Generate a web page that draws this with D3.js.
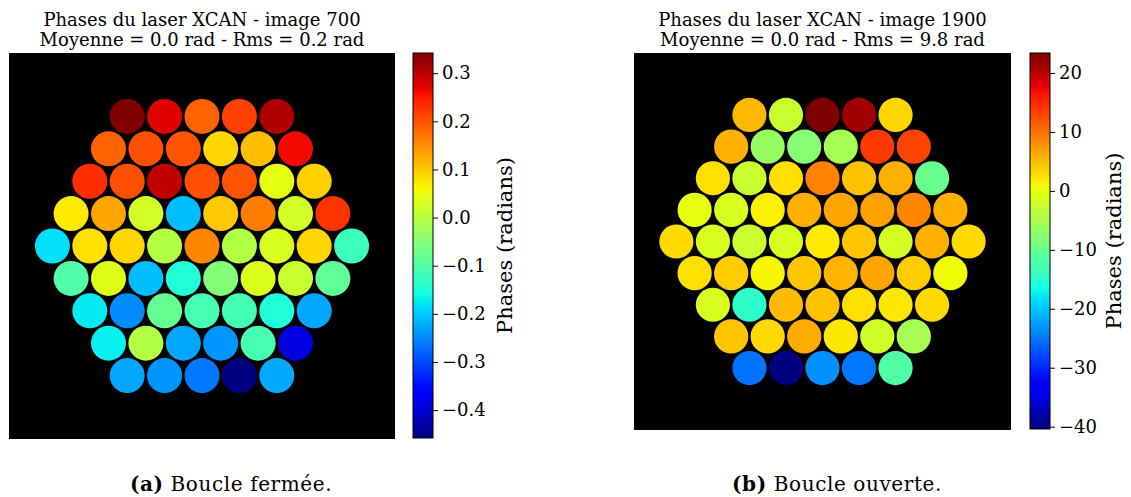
<!DOCTYPE html>
<html>
<head>
<meta charset="utf-8">
<script src="https://cdn.jsdelivr.net/npm/d3@7"></script>
<style>
  html, body { margin: 0; padding: 0; background: #fff; }
  svg { display: block; }
</style>
</head>
<body>
<svg id="chart" width="1131" height="497"></svg>
<script>
// ---------------- data ----------------
// hexagonal layout: number of sub-apertures per row (top to bottom)
const rowCounts = [5, 6, 7, 8, 9, 8, 7, 6, 5];

// (a) closed loop, image 700 — phases (rad), row by row, left to right
const phasesClosed = [
  0.342, 0.275, 0.186, 0.215, 0.309,
  0.186, 0.203, 0.200, 0.088, 0.109, 0.262,
  0.232, 0.203, 0.296, 0.203, 0.200, 0.045, 0.093,
  0.071, 0.130, 0.026, -0.209, 0.101, 0.164, 0.026, 0.227,
  -0.182, 0.080, 0.088, -0.004, 0.156, -0.004, 0.031, 0.088, -0.120,
  -0.100, 0.040, -0.209, -0.148, -0.052, 0.036, 0.016, -0.085,
  -0.174, -0.248, -0.081, -0.110, -0.113, -0.148, -0.228,
  -0.170, -0.004, -0.228, -0.240, -0.110, -0.391,
  -0.228, -0.240, -0.264, -0.458, -0.225
];

// (b) open loop, image 1900 — phases (rad)
const phasesOpen = [
  5.2, -2.5, 23.4, 21.6, 3.2,
  5.8, -6.4, -7.6, -5.2, 13.9, 13.1,
  2.5, -2.5, 2.5, 8.9, 4.6, 5.8, -9.9,
  -0.2, -1.4, 1.4, 5.8, 6.5, 6.8, 8.6, 5.8,
  2.9, -1.4, -2.5, -1.4, 1.8, 4.3, -1.7, 5.8, 2.9,
  2.5, 3.9, 1.0, 4.3, 5.4, 6.5, 3.9, 0.5,
  -1.4, -14.5, 5.0, 4.6, 2.5, 2.0, 2.9,
  4.3, 2.9, 6.1, 2.0, -2.0, -5.2,
  -25.2, -40.4, -23.4, -25.0, -11.8
];

const ticksClosed = [0.3, 0.2, 0.1, 0.0, -0.1, -0.2, -0.3, -0.4];
const ticksOpen = [20, 10, 0, -10, -20, -30, -40];

const titlesClosed = ["Phases du laser XCAN - image 700", "Moyenne = 0.0 rad - Rms = 0.2 rad"];
const titlesOpen = ["Phases du laser XCAN - image 1900", "Moyenne = 0.0 rad - Rms = 9.8 rad"];
const captionClosed = ["(a)", " Boucle fermée."];
const captionOpen = ["(b)", " Boucle ouverte."];
const cbarLabel = "Phases (radians)";

// ---------------- jet colormap (matplotlib) ----------------
const jetR = d3.scaleLinear().domain([0, 0.35, 0.66, 0.89, 1]).range([0, 0, 1, 1, 0.5]).clamp(true);
const jetG = d3.scaleLinear().domain([0, 0.125, 0.375, 0.64, 0.91, 1]).range([0, 0, 1, 1, 0, 0]).clamp(true);
const jetB = d3.scaleLinear().domain([0, 0.11, 0.34, 0.65, 1]).range([0.5, 1, 1, 0, 0]).clamp(true);
function jet(t) {
  return d3.rgb(Math.round(jetR(t) * 255), Math.round(jetG(t) * 255), Math.round(jetB(t) * 255)).formatHex();
}

const svg = d3.select("#chart");
const defs = svg.append("defs");
const FONT = "'DejaVu Serif', serif";

// build cell positions from the row layout (pitch units)
const cells = [];
rowCounts.forEach((n, r) => {
  for (let c = 0; c < n; c++) {
    cells.push({ col: c - (n - 1) / 2, row: (r - (rowCounts.length - 1) / 2) * Math.sqrt(3) / 2 });
  }
});

function panel(opts) {
  const { x0, y0, size, values, ticks, titles, caption, capX, cbX, cbH, lblX, id } = opts;
  const g = svg.append("g");
  const half = 5.16;
  const xs = d3.scaleLinear().domain([-half, half]).range([x0, x0 + size]);
  const ys = d3.scaleLinear().domain([-half, half]).range([y0, y0 + size]);
  const rPx = 0.468 * size / (2 * half);

  const vmin = d3.min(values), vmax = d3.max(values);
  const norm = d3.scaleLinear().domain([vmin, vmax]).range([0, 1]);

  g.append("rect").attr("x", x0).attr("y", y0).attr("width", size).attr("height", size).attr("fill", "#000");

  g.selectAll("circle.cell").data(cells.map((c, i) => ({ ...c, v: values[i] })))
    .join("circle").attr("class", "cell")
    .attr("cx", d => xs(d.col)).attr("cy", d => ys(d.row)).attr("r", rPx)
    .attr("fill", d => jet(norm(d.v)));

  // titles
  const cx = x0 + size / 2;
  g.append("text").attr("x", cx).attr("y", 26).attr("text-anchor", "middle")
    .attr("font-family", FONT).attr("font-size", 18).text(titles[0]);
  g.append("text").attr("x", cx).attr("y", 45.7).attr("text-anchor", "middle")
    .attr("font-family", FONT).attr("font-size", 18).text(titles[1]);

  // colorbar
  const cbW = 20;
  const grad = defs.append("linearGradient").attr("id", id).attr("x1", 0).attr("y1", 1).attr("x2", 0).attr("y2", 0);
  d3.range(0, 1.0001, 0.01).forEach(t => grad.append("stop").attr("offset", t).attr("stop-color", jet(t)));
  const cy = d3.scaleLinear().domain([vmin, vmax]).range([y0 + cbH, y0]);
  g.append("rect").attr("x", cbX).attr("y", y0).attr("width", cbW).attr("height", cbH)
    .attr("fill", `url(#${id})`).attr("stroke", "#000").attr("stroke-width", 1);
  const axis = d3.axisRight(cy).tickValues(ticks).tickSize(5).tickPadding(4)
    .tickFormat(d => {
      const s = (Math.abs(vmax - vmin) < 5) ? d3.format(".1f")(Math.abs(d)) : d3.format("d")(Math.abs(d));
      return (d < 0 ? "\u2212" : "") + s;
    });
  const ag = g.append("g").attr("transform", `translate(${cbX + cbW},0)`).call(axis);
  ag.select(".domain").remove();
  ag.selectAll("text").attr("font-family", FONT).attr("font-size", 18).attr("fill", "#000");
  ag.selectAll("line").attr("stroke", "#000");

  g.append("text").attr("transform", `translate(${lblX},${y0 + cbH / 2}) rotate(-90)`)
    .attr("text-anchor", "middle").attr("font-family", FONT).attr("font-size", 21).text(cbarLabel);

  // caption
  const cap = g.append("text").attr("x", capX).attr("y", 491).attr("text-anchor", "middle")
    .attr("font-family", "'DejaVu Serif', serif").attr("font-size", 20).attr("letter-spacing", 0.6);
  cap.append("tspan").attr("font-weight", "bold").text(caption[0]);
  cap.append("tspan").text(caption[1]);
}

panel({ x0: 9, y0: 53, size: 386, values: phasesClosed, ticks: ticksClosed, titles: titlesClosed,
        caption: captionClosed, capX: 231, cbX: 413, cbH: 385, lblX: 512, id: "gradA" });
panel({ x0: 634, y0: 53, size: 377, values: phasesOpen, ticks: ticksOpen, titles: titlesOpen,
        caption: captionOpen, capX: 837, cbX: 1030, cbH: 376, lblX: 1121, id: "gradB" });
</script>
</body>
</html>
